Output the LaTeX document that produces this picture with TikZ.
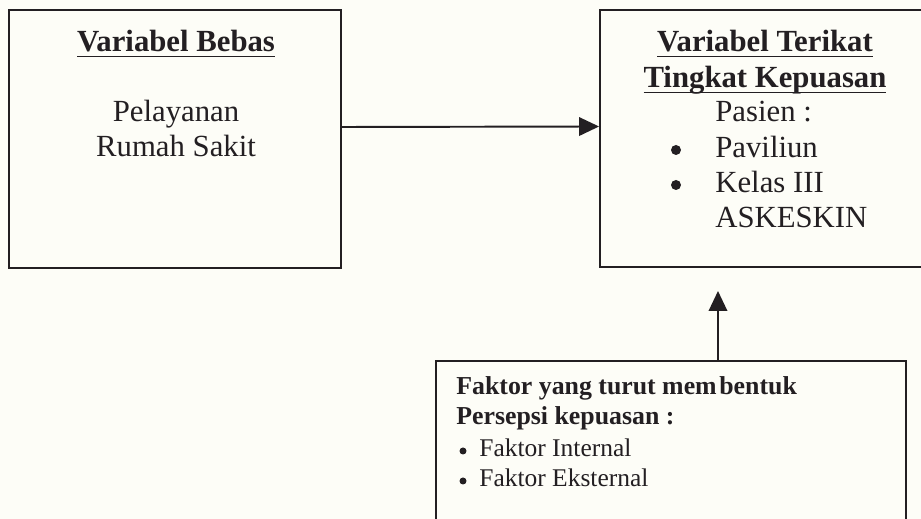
\documentclass[tikz,border=0pt]{standalone}
\usepackage{fontspec}
\setmainfont{Liberation Serif}
\usetikzlibrary{arrows.meta}

\definecolor{kertas}{HTML}{FDFDF7}
\definecolor{tinta}{HTML}{231F22}

% garis bawah pada jarak tetap di bawah garis dasar
\newcommand{\garisbawah}[1]{\setbox0\hbox{#1}\rlap{\rule[-3pt]{\wd0}{1pt}}\box0}

\tikzset{
	kotak/.style={draw=tinta,line width=1.1pt,rectangle,inner sep=0pt},
	besar/.style={font=\fontsize{17.5}{20.5}\selectfont,text=tinta,inner sep=0pt},
	kecil/.style={font=\fontsize{14.5}{17.5}\selectfont,text=tinta,inner sep=0pt},
	titik/.style={circle,fill=tinta,inner sep=0pt,minimum size=#1},
	panah/.style={draw=tinta,line width=1.1pt,-{Triangle[length=0.4cm,width=0.37cm]}}
}

\begin{document}
\begin{tikzpicture}[x=0.02cm,y=-0.02cm]
	\useasboundingbox (0,0) rectangle (921,519);
	\clip (0,0) rectangle (921,519);
	\fill[kertas] (0,0) rectangle (921,519);

	% kotak
	\node[kotak,minimum width=6.64cm,minimum height=5.16cm] (bebas) at (175,139) {};
	\node[kotak,minimum width=6.8cm,minimum height=5.14cm] (terikat) at (770,138.5) {};
	\node[kotak,minimum width=9.4cm,minimum height=3.6cm] (faktor) at (671,451) {};

	% variabel bebas
	\node[besar,anchor=base,font=\bfseries\fontsize{17.5}{20.5}\selectfont] (judulbebas) at (176,52) {\garisbawah{Variabel Bebas}};
	\node[besar,anchor=base] (pelayanan) at (176,122) {Pelayanan};
	\node[besar,anchor=base] (rs) at (176,157) {Rumah Sakit};

	% variabel terikat
	\node[besar,anchor=base,font=\bfseries\fontsize{17.5}{20.5}\selectfont] (judulterikat) at (765,52) {\garisbawah{Variabel Terikat}};
	\node[besar,anchor=base,font=\bfseries\fontsize{17.5}{20.5}\selectfont] (tingkat) at (765,88) {\garisbawah{Tingkat Kepuasan}};
	\node[besar,anchor=base west] (pasien) at (715,122) {Pasien :};
	\node[titik=0.2cm] (b1) at (676,150) {};
	\node[besar,anchor=base west] (paviliun) at (715,158) {Paviliun};
	\node[titik=0.2cm] (b2) at (676,185) {};
	\node[besar,anchor=base west] (kelas) at (715,193) {Kelas III};
	\node[besar,anchor=base west] (askeskin) at (715,228) {ASKESKIN};

	% faktor
	\node[kecil,anchor=base west,font=\bfseries\fontsize{14.7}{17.5}\selectfont] (f1) at (456,395) {Faktor yang turut mem\kern1.5pt bentuk};
	\node[kecil,anchor=base west,font=\bfseries\fontsize{14.7}{17.5}\selectfont] (f2) at (456,425) {Persepsi kepuasan :};
	\node[titik=0.14cm] (b3) at (463,451) {};
	\node[kecil,anchor=base west] (internal) at (479,457) {Faktor Internal};
	\node[titik=0.14cm] (b4) at (463,481) {};
	\node[kecil,anchor=base west] (eksternal) at (479,487) {Faktor Eksternal};

	% panah
	\coordinate (ujung) at (718,291);
	\draw[panah] ([yshift=0.24cm]bebas.east) -- ([yshift=0.24cm]terikat.west);
	\draw[panah] ([xshift=0.94cm]faktor.north) -- (ujung);
\end{tikzpicture}
\end{document}
